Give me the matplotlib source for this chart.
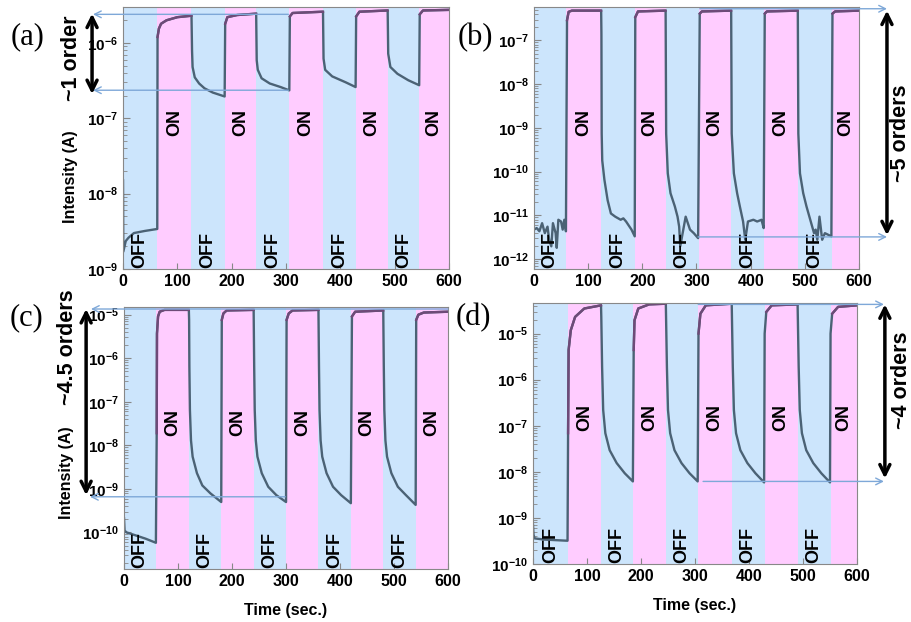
# Four-panel photoresponse plot: current vs time under OFF/ON light cycles
# (log scale), with guide lines marking the on/off ratio.

import matplotlib
matplotlib.use("Agg")
import matplotlib.pyplot as plt
from matplotlib.ticker import FuncFormatter
import math

plt.rcParams['font.family'] = 'Liberation Sans'
plt.rcParams['mathtext.fontset'] = 'custom'
plt.rcParams['mathtext.rm'] = 'Liberation Sans:bold'
plt.rcParams['mathtext.bf'] = 'Liberation Sans:bold'
plt.rcParams['mathtext.default'] = 'rm'

OFF_BG = '#cce5fc'
ON_BG = '#ffccff'
OFF_LINE = '#4b6275'
ON_LINE = '#6e4a78'
GUIDE = '#7ea8d8'

############################## DATA ##############################

# phase boundaries (sec.), starting with OFF
edges_a = [0, 63, 126, 187, 245, 306, 368, 428, 487, 545, 600]
edges_b = [0, 60, 124, 186, 243, 304, 364, 424, 487, 550, 600]
edges_c = [0, 60, 120, 180, 240, 300, 360, 420, 480, 540, 600]
edges_d = [0, 64, 126, 186, 246, 306, 368, 429, 490, 551, 600]

# panel (a)
t_a = [0, 0.5, 5, 10, 20, 40, 63,
       63.5, 66, 70, 80, 100, 126,
       127, 128, 132, 140, 150, 165, 187,
       188, 192, 210, 245,
       246, 248, 255, 270, 290, 306,
       307, 312, 368,
       369, 372, 385, 410, 428,
       429, 435, 487,
       488, 492, 505, 525, 545,
       546, 552, 600]
i_a = [1.5e-8, 1.7e-9, 2.35e-9, 2.6e-9, 3.0e-9, 3.2e-9, 3.4e-9,
       1.2e-6, 1.55e-6, 1.8e-6, 2.0e-6, 2.2e-6, 2.3e-6,
       7.9e-7, 4.8e-7, 3.5e-7, 2.9e-7, 2.5e-7, 2.2e-7, 1.95e-7,
       1.8e-6, 2.2e-6, 2.35e-6, 2.45e-6,
       5.9e-7, 4.4e-7, 3.4e-7, 2.9e-7, 2.6e-7, 2.35e-7,
       2.25e-6, 2.5e-6, 2.6e-6,
       6.2e-7, 4.4e-7, 3.6e-7, 3.0e-7, 2.6e-7,
       2.25e-6, 2.6e-6, 2.7e-6,
       7.2e-7, 4.8e-7, 3.9e-7, 3.2e-7, 2.75e-7,
       2.4e-6, 2.7e-6, 2.75e-6]

# panel (b)
t_b = [0, 5, 10, 15, 20, 25, 28, 32, 35, 40, 42, 45, 50, 53, 56, 59,
       61, 64, 70, 124,
       124.5, 125, 126, 130, 136, 142, 150, 160, 165, 170, 180, 186,
       187, 192, 243,
       244, 247, 252, 260, 265, 268, 270, 280, 288, 295, 303,
       306, 310, 364,
       365, 369, 375, 380, 386, 390, 395, 405, 412, 420, 424,
       426, 430, 487,
       488, 491, 497, 503, 510, 517, 520, 523, 527, 532, 537, 549,
       551, 556, 600]
i_b = [4.7e-12, 5.1e-12, 4.3e-12, 6.6e-12, 3.9e-12, 5.5e-12, 2.75e-12, 1.95e-12,
       6.6e-12, 3.9e-12, 1.8e-12, 7.9e-12, 7.2e-12, 4.7e-12, 7.9e-12, 4.3e-12,
       2.9e-7, 4.5e-7, 4.8e-7, 4.8e-7,
       1.4e-7, 7.4e-10, 1.8e-10, 6.5e-11, 2.2e-11, 1.1e-11, 9.3e-12, 7.9e-12,
       8.5e-12, 7.2e-12, 4.7e-12, 3.3e-12,
       3.4e-7, 4.6e-7, 4.8e-7,
       7.4e-10, 9.1e-11, 3.2e-11, 1.6e-11, 9.3e-12, 5.5e-12, 1.95e-12, 9.3e-12,
       4.7e-12, 3.9e-12, 3.0e-12,
       4.1e-7, 4.6e-7, 4.8e-7,
       7.4e-10, 9.1e-11, 3.2e-11, 1.6e-11, 7.2e-12, 2.75e-12, 7.2e-12, 7.9e-12,
       7.2e-12, 7.9e-12, 5.1e-12,
       4.1e-7, 4.6e-7, 4.8e-7,
       7.4e-10, 9.1e-11, 3.2e-11, 1.6e-11, 7.9e-12, 3.9e-12, 4.7e-12, 2.75e-12,
       9.3e-12, 2.75e-12, 3.9e-12, 3.3e-12,
       4.1e-7, 4.6e-7, 4.8e-7]

# panel (c)
t_c = [0, 1, 5, 20, 40, 59,
       60.5, 61, 63, 66, 75, 120,
       120.5, 121, 122, 124, 127, 135, 145, 160, 180,
       181, 184, 190, 240,
       241, 242, 244, 247, 255, 267, 282, 300,
       301, 305, 312, 360,
       361, 362, 364, 367, 375, 387, 402, 420,
       422, 428, 480,
       481, 482, 484, 487, 495, 507, 522, 540,
       541, 545, 555, 600]
i_c = [2.1e-10, 1.1e-10, 1.0e-10, 8.7e-11, 7.2e-11, 5.8e-11,
       1.9e-8, 3.7e-6, 9.1e-6, 1.17e-5, 1.29e-5, 1.29e-5,
       7.6e-6, 6.4e-7, 6.5e-8, 1.3e-8, 5.5e-9, 2.3e-9, 1.2e-9, 7.9e-10, 5.0e-10,
       7.6e-6, 1.07e-5, 1.25e-5, 1.29e-5,
       6.4e-7, 6.5e-8, 1.3e-8, 5.5e-9, 2.3e-9, 1.12e-9, 7.2e-10, 5.0e-10,
       7.6e-6, 1.07e-5, 1.25e-5, 1.29e-5,
       6.4e-7, 6.5e-8, 1.3e-8, 5.5e-9, 2.3e-9, 1.12e-9, 7.2e-10, 4.7e-10,
       9.1e-6, 1.17e-5, 1.25e-5,
       6.4e-7, 6.5e-8, 1.3e-8, 5.5e-9, 2.3e-9, 1.12e-9, 7.2e-10, 4.3e-10,
       7.6e-6, 1.0e-5, 1.12e-5, 1.17e-5]

# panel (d)
t_d = [0, 1, 3, 20, 64,
       65, 66, 70, 78, 95, 126,
       126.5, 128, 130, 134, 142, 155, 170, 185,
       186.5, 188, 195, 215, 246,
       248, 250, 254, 262, 275, 290, 305,
       306.5, 310, 320, 368,
       370, 372, 376, 384, 397, 412, 428,
       429, 432, 442, 490,
       492, 494, 498, 506, 519, 534, 550,
       551, 554, 565, 600]
i_d = [7.1e-10, 4.3e-10, 3.6e-10, 3.4e-10, 3.2e-10,
       6.9e-8, 4.4e-6, 1.18e-5, 2.3e-5, 3.5e-5, 4.1e-5,
       2.3e-5, 1.9e-6, 2.2e-7, 6.9e-8, 2.95e-8, 1.55e-8, 9.3e-9, 6.2e-9,
       4.4e-6, 1.95e-5, 3.5e-5, 4.3e-5, 4.45e-5,
       1.9e-6, 2.2e-7, 6.9e-8, 2.95e-8, 1.55e-8, 9.3e-9, 6.2e-9,
       1.0e-5, 2.7e-5, 4.1e-5, 4.45e-5,
       1.9e-6, 2.2e-7, 6.9e-8, 2.95e-8, 1.55e-8, 9.3e-9, 5.9e-9,
       1.0e-5, 2.95e-5, 4.1e-5, 4.3e-5,
       1.9e-6, 2.2e-7, 6.9e-8, 2.95e-8, 1.55e-8, 9.3e-9, 5.9e-9,
       1.0e-5, 2.7e-5, 3.8e-5, 4.1e-5]

############################## FUNCTIONS ##############################

# bold 10^n tick labels
def powerLabel(value, pos):
  return r'$10^{%d}$' % round(math.log10(value))

# draws shaded phases, the current trace and the ON/OFF labels
def drawPanel(ax, t, current, edges, ylim):
  for k in range(len(edges) - 1):
    isOn = k % 2 == 1
    ax.axvspan(edges[k], edges[k + 1], color=ON_BG if isOn else OFF_BG,
               lw=0, zorder=0)
    ax.text((edges[k] + edges[k + 1]) / 2, 0.56 if isOn else 0.005,
            'ON' if isOn else 'OFF', rotation=90, ha='center',
            va='center' if isOn else 'bottom', fontsize=13, fontweight='bold',
            transform=ax.get_xaxis_transform(), zorder=3)

  ax.plot(t, current, color=OFF_LINE, lw=1.7, zorder=2)
  # redraw the parts inside ON phases in the purple tint
  for k in range(1, len(edges) - 1, 2):
    pts = [(x, y) for x, y in zip(t, current) if edges[k] < x <= edges[k + 1]]
    ax.plot([p[0] for p in pts], [p[1] for p in pts], color=ON_LINE, lw=1.7,
            zorder=2)

  ax.set_yscale('log')
  ax.set_xlim(0, 600)
  ax.set_ylim(*ylim)
  ax.set_xticks(range(0, 601, 100))
  ax.yaxis.set_major_formatter(FuncFormatter(powerLabel))
  ax.tick_params(axis='both', which='both', direction='in', colors='#888888',
                 labelcolor='black')
  ax.tick_params(axis='x', labelsize=11.5, length=4)
  ax.tick_params(axis='y', labelsize=11, length=5)
  ax.tick_params(axis='y', which='minor', length=3)
  for lab in ax.get_xticklabels():
    lab.set_fontweight('bold')
  for s in ax.spines.values():
    s.set_color('#888888')

# thin light blue guide line with a small arrow head at (x1, y)
def guideLine(ax, x0, x1, y):
  ax.annotate('', xy=(x1, y), xycoords=('axes fraction', 'data'),
              xytext=(x0, y), textcoords=('axes fraction', 'data'),
              arrowprops=dict(arrowstyle='->', color=GUIDE, lw=1.0,
                              shrinkA=0, shrinkB=0, mutation_scale=12),
              annotation_clip=False)

# black double arrow with the "~N orders" text beside it
def ordersArrow(ax, x, yTop, yBottom, label, textX, textY):
  ax.annotate('', xy=(x, yTop), xycoords=('axes fraction', 'data'),
              xytext=(x, yBottom), textcoords=('axes fraction', 'data'),
              arrowprops=dict(arrowstyle='<->', color='black', lw=2.5,
                              shrinkA=0, shrinkB=0, mutation_scale=18),
              annotation_clip=False)
  ax.text(textX, textY, label, rotation=90, ha='center', va='center',
          fontsize=15.5, fontweight='bold', transform=ax.transAxes,
          clip_on=False)

############################## SCRIPT ##############################

fig = plt.figure(figsize=(9.12, 6.22), dpi=100)
axA = fig.add_axes([0.1349, 0.5675, 0.3575, 0.4212])
axB = fig.add_axes([0.5855, 0.5675, 0.3564, 0.4212])
axC = fig.add_axes([0.1360, 0.0852, 0.3553, 0.4212])
axD = fig.add_axes([0.5844, 0.0932, 0.3553, 0.4196])

drawPanel(axA, t_a, i_a, edges_a, (1e-9, 3.0e-6))
drawPanel(axB, t_b, i_b, edges_b, (5.9e-13, 5.8e-7))
drawPanel(axC, t_c, i_c, edges_c, (1.45e-11, 1.5e-5))
drawPanel(axD, t_d, i_d, edges_d, (1e-10, 4.6e-5))

# on/off ratio markers
guideLine(axA, 0.507, -0.092, 2.4e-6)
guideLine(axA, 0.507, -0.092, 2.36e-7)
ordersArrow(axA, -0.095, 2.45e-6, 2.1e-7, '~1 order', -0.158, 0.805)

guideLine(axB, 0.51, 1.086, 5.3e-7)
guideLine(axB, 0.505, 1.086, 3.2e-12)
ordersArrow(axB, 1.086, 4.8e-7, 3.5e-12, '~5 orders', 1.128, 0.519)

guideLine(axC, 1.0, -0.102, 1.35e-5)
guideLine(axC, 0.4975, -0.105, 6.6e-10)
ordersArrow(axC, -0.117, 1.35e-5, 7.2e-10, '~4.5 orders', -0.176, 0.847)

guideLine(axD, 0.51, 1.083, 4.3e-5)
guideLine(axD, 0.525, 1.083, 6.2e-9)
ordersArrow(axD, 1.086, 4.3e-5, 7.2e-9, '~4 orders', 1.136, 0.705)

# axis labels
axA.set_ylabel('Intensity (A)', fontsize=11.5, fontweight='bold')
axA.yaxis.set_label_coords(-0.138, 0.351)
axC.set_ylabel('Intensity (A)', fontsize=11.5, fontweight='bold')
axC.yaxis.set_label_coords(-0.154, 0.366)
axC.set_xlabel('Time (sec.)', fontsize=11.5, fontweight='bold')
axC.xaxis.set_label_coords(0.5, -0.13)
axD.set_xlabel('Time (sec.)', fontsize=11.5, fontweight='bold')
axD.xaxis.set_label_coords(0.5, -0.13)

# panel letters
for label, px, py in [('(a)', 28, 37), ('(b)', 475, 38), ('(c)', 27, 318), ('(d)', 473, 318)]:
  fig.text(px / 912, 1 - py / 622, label, family='Liberation Serif',
           fontsize=22, ha='center', va='center')

fig.savefig('out.png', dpi=100)
